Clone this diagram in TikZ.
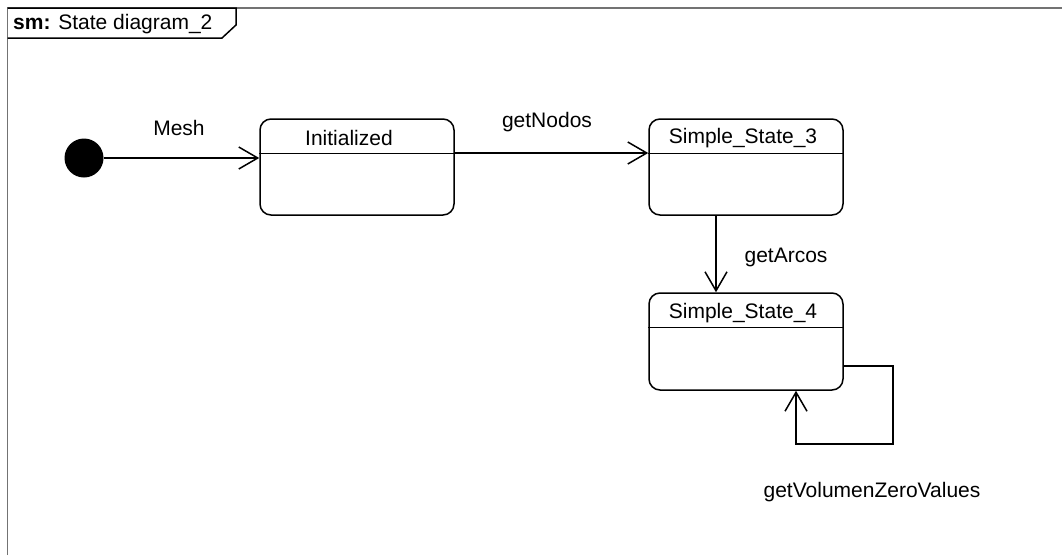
\documentclass[tikz,border=0pt]{standalone}
\usepackage{fontspec}
\setmainfont{Liberation Sans}
\usetikzlibrary{arrows.meta}
\begin{document}
\begin{tikzpicture}[x=1pt,y=-1pt,
  every node/.style={font=\fontsize{21}{25}\selectfont, inner sep=0pt},
  statebox/.style={draw, line width=1.5pt, rounded corners=11pt,
    minimum width=194pt, minimum height=96pt},
  trans/.style={line width=1.5pt, -{Straight Barb[length=19pt,width=22pt,line width=1.5pt]}},
  framebox/.style={draw=black!55, line width=1.7pt},
  lbl/.style={anchor=center}]
\useasboundingbox (0,0) rectangle (1062,555);
% outer frame of the state machine
\draw[framebox] (7.5,555) -- (7.5,8) -- (1062,8);
% name tab
\draw[line width=1.5pt] (7.5,8) -- (236,8) -- (236,25) -- (222,38) -- (7.5,38);
\node[anchor=west] (title) at (13,24) {\textbf{sm:} State diagram\_2};
% initial pseudostate
\node[circle, fill=black, minimum size=39pt] (start) at (84,158) {};
% states
\node[statebox] (init) at (357,167) {};
\node[statebox] (s3) at (746,167) {};
\node[statebox, minimum height=97pt] (s4) at (746,341.5) {};
\foreach \s in {init,s3,s4}
  \draw[line width=1.5pt] ([yshift=-35pt]\s.north west) -- ([yshift=-35pt]\s.north east);
\node (initT) at (349,138) {Initialized};
\node (s3T) at (743,138) {Simple\_State\_3};
\node (s4T) at (743,313) {Simple\_State\_4};
% transitions
\draw[trans] (start.east) -- (init.west |- start);
\node[lbl] (mesh) at (179,128) {Mesh};
\draw[trans] (init.east |- 0,153) -- (s3.west |- 0,153);
\node[lbl] (nodos) at (547,122) {getNodos};
\draw[trans] (s3.south -| 716,0) -- (s4.north -| 716,0);
\node[lbl] (arcos) at (786,257) {getArcos};
\draw[trans] (s4.east |- 0,366) -| (893,444) -| (s4.south -| 796,0);
\node[lbl] (zero) at (872,492) {getVolumenZeroValues};
\end{tikzpicture}
\end{document}
